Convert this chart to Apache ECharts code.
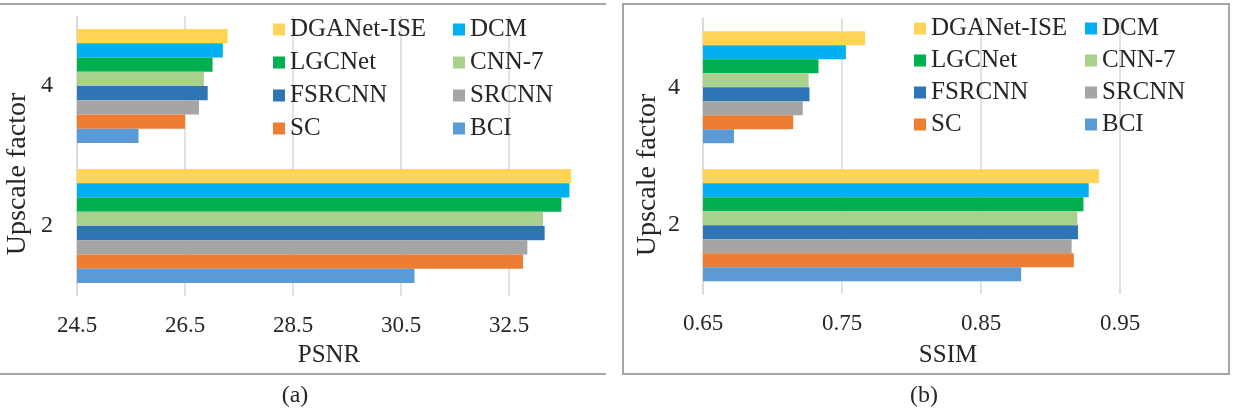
<!DOCTYPE html>
<html>
<head>
<meta charset="utf-8">
<script src="https://cdn.jsdelivr.net/npm/echarts@6/dist/echarts.min.js"></script>
<style>
  html, body { margin: 0; padding: 0; background: #fff; }
  body { width: 1237px; height: 408px; position: relative; overflow: hidden; }
  .chart { position: absolute; top: 0; height: 408px; overflow: hidden; }
  .frame { position: absolute; pointer-events: none; box-sizing: border-box; }
</style>
</head>
<body>
<div id="left" class="chart" style="left:0;width:606px;"></div>
<div id="right" class="chart" style="left:622px;width:608px;"></div>
<div class="frame" style="left:0;top:3px;width:606px;height:372px;border-top:2px solid #a6a6a6;border-bottom:2px solid #a6a6a6;"></div>
<div class="frame" style="left:622px;top:3px;width:608px;height:372px;border:2px solid #a6a6a6;"></div>
<script>
// ---- data ----
const categories = ['2', '4'];               // upscale factor (bottom to top)
const methods = ['DGANet-ISE', 'DCM', 'LGCNet', 'CNN-7', 'FSRCNN', 'SRCNN', 'SC', 'BCI'];
const colors  = ['#FFD457', '#00B0F0', '#00B050', '#A9D18E', '#2E75B6', '#A5A5A5', '#ED7D31', '#5B9BD5'];
const psnrX2 = [33.65, 33.62, 33.47, 33.13, 33.16, 32.84, 32.76, 30.75];
const psnrX4 = [27.29, 27.20, 27.01, 26.85, 26.92, 26.76, 26.50, 25.64];
const ssimX2 = [0.9348, 0.9275, 0.9237, 0.9193, 0.9198, 0.9152, 0.9168, 0.8789];
const ssimX4 = [0.7666, 0.7528, 0.7331, 0.7260, 0.7266, 0.7218, 0.7149, 0.6723];
const psnrTicks = { min: 24.5, max: 34.5, interval: 2, digits: 1 };
const ssimTicks = { min: 0.65, max: 1.05, interval: 0.1, digits: 2 };
const legendColA = ['DGANet-ISE', 'LGCNet', 'FSRCNN', 'SC'];
const legendColB = ['DCM', 'CNN-7', 'SRCNN', 'BCI'];

const SERIF = '"Liberation Serif", "Times New Roman", serif';
const TXT = '#262626';

function buildOption(cfg) {
  const series = methods.map((m, i) => ({
    name: m,
    type: 'bar',
    data: [cfg.x2[i], cfg.x4[i]],
    itemStyle: { color: colors[i] },
    barGap: '0%',
    barCategoryGap: cfg.catGap,
    silent: true
  }));
  const legendBase = {
    orient: 'vertical',
    icon: 'rect',
    padding: 0,
    itemWidth: 12,
    itemHeight: 12,
    itemGap: cfg.legendGap,
    selectedMode: false,
    textStyle: { fontFamily: SERIF, fontSize: 25, color: TXT, lineHeight: 24 },
    top: cfg.legendTop
  };
  return {
    animation: false,
    color: colors,
    grid: {
      left: cfg.gridLeft, top: cfg.gridTop, height: cfg.gridHeight, width: cfg.gridWidth,
      containLabel: false, outerBoundsMode: 'none'
    },
    legend: [
      Object.assign({}, legendBase, { data: legendColA, left: cfg.legendA }),
      Object.assign({}, legendBase, { data: legendColB, left: cfg.legendB })
    ],
    xAxis: {
      type: 'value',
      min: cfg.ticks.min, max: cfg.ticks.max, interval: cfg.ticks.interval,
      axisLine: { show: false },
      axisTick: { show: false },
      splitLine: { show: true, lineStyle: { color: '#d9d9d9', width: 1.5 } },
      axisLabel: {
        margin: 18, showMaxLabel: false,
        fontFamily: SERIF, fontSize: 23, color: TXT,
        formatter: v => Number(v).toFixed(cfg.ticks.digits)
      }
    },
    yAxis: {
      type: 'category',
      data: categories,
      axisLine: { show: true, lineStyle: { color: '#d9d9d9', width: 1.5 } },
      axisTick: { show: false },
      axisLabel: { margin: cfg.yMargin, fontFamily: SERIF, fontSize: 24, color: TXT }
    },
    graphic: [
      { type: 'text', x: cfg.xNamePos[0], y: cfg.xNamePos[1],
        style: { text: cfg.xName, font: '25px ' + SERIF, fill: TXT, textAlign: 'center', textVerticalAlign: 'middle' } },
      { type: 'text', x: cfg.yNamePos[0], y: cfg.yNamePos[1], rotation: Math.PI / 2,
        style: { text: 'Upscale factor', font: '28px ' + SERIF, fill: TXT, textAlign: 'center', textVerticalAlign: 'middle' } },
      { type: 'text', x: cfg.capPos[0], y: cfg.capPos[1],
        style: { text: cfg.caption, font: '24px ' + SERIF, fill: TXT, textAlign: 'center', textVerticalAlign: 'middle' } }
    ],
    series: series
  };
}

const left = echarts.init(document.getElementById('left'), null, { renderer: 'canvas' });
left.setOption(buildOption({
  x2: psnrX2, x4: psnrX4, ticks: psnrTicks,
  gridLeft: 77, gridTop: 16, gridHeight: 280, gridWidth: 540,
  catGap: '18.6%', yMargin: 24,
  legendTop: 17, legendGap: 8, legendA: 273, legendB: 453,
  xName: 'PSNR', xNamePos: [329, 355],
  yNamePos: [18, 174],
  caption: '(a)', capPos: [295, 396]
}));

const right = echarts.init(document.getElementById('right'), null, { renderer: 'canvas' });
right.setOption(buildOption({
  x2: ssimX2, x4: ssimX4, ticks: ssimTicks,
  gridLeft: 81, gridTop: 18.3, gridHeight: 275.8, gridWidth: 556,
  catGap: '18.8%', yMargin: 23,
  legendTop: 16, legendGap: 7, legendA: 292, legendB: 463,
  xName: 'SSIM', xNamePos: [326, 355],
  yNamePos: [26, 175],
  caption: '(b)', capPos: [302, 396]
}));
</script>
</body>
</html>
